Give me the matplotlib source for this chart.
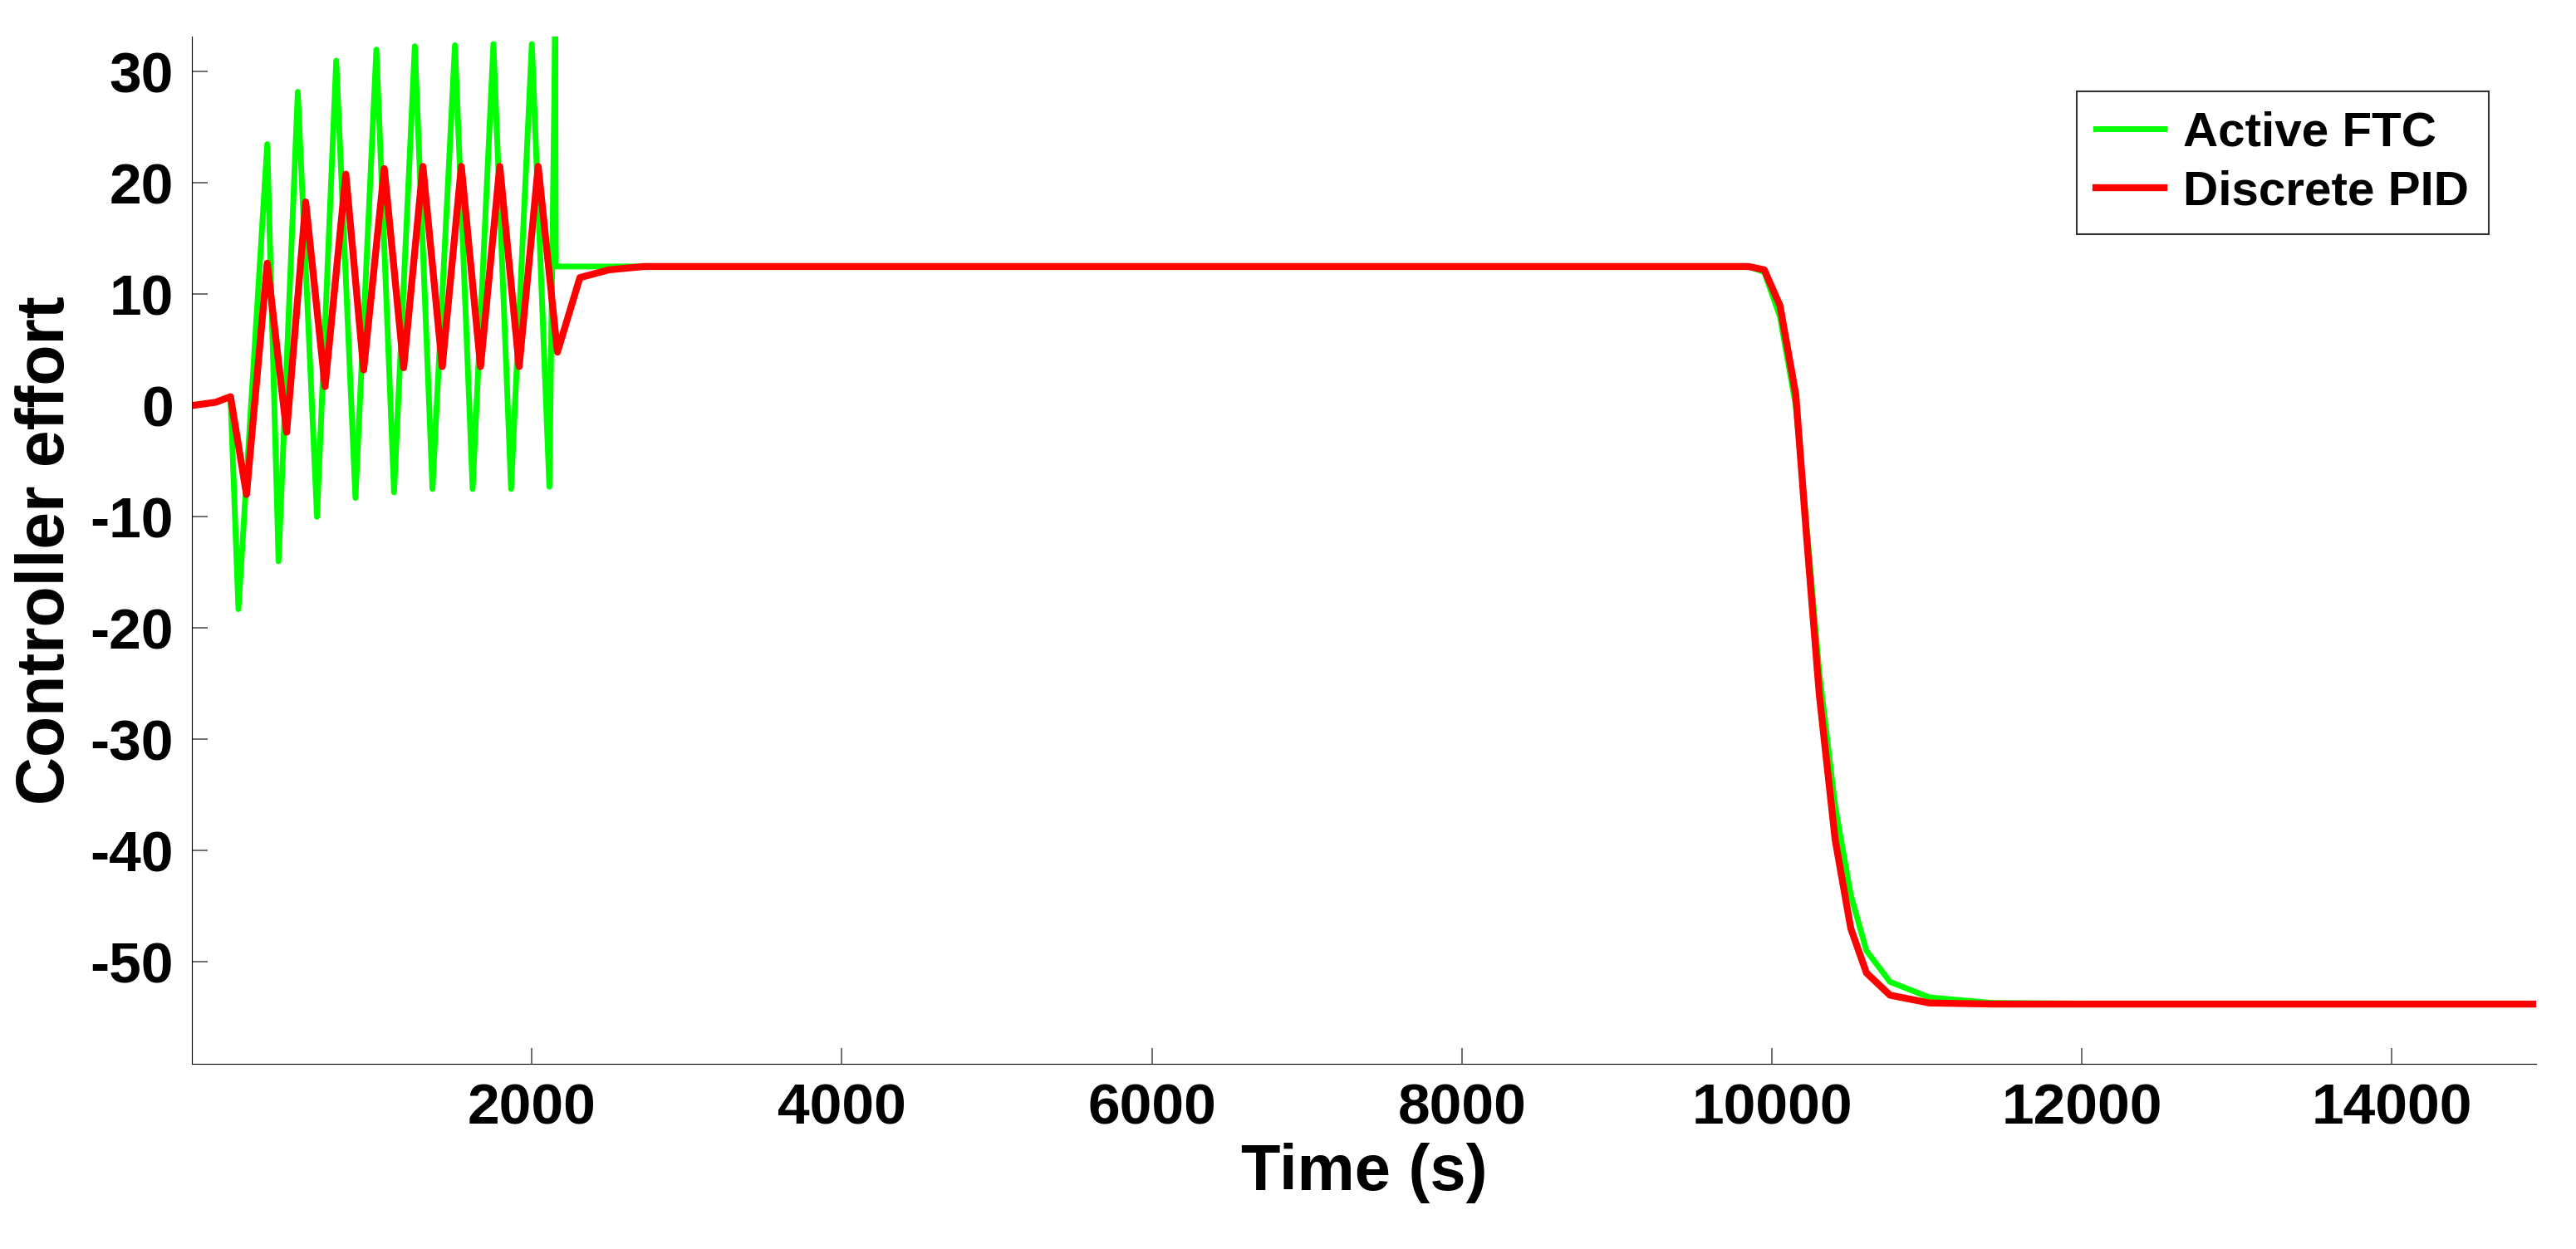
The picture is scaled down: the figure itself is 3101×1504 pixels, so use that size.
import matplotlib.pyplot as plt

plt.rcParams['font.family'] = ['Liberation Sans', 'DejaVu Sans']
plt.rcParams['font.weight'] = 'bold'
plt.rcParams['axes.unicode_minus'] = False

# Active FTC (green) - read peaks / troughs off the picture
ftc_t = [-193, -39, 56, 107, 293, 366, 490, 614, 738, 862, 997, 1111, 1245, 1359,
         1504, 1618, 1752, 1866, 2000, 2113, 2150, 2155, 2700, 9850, 9951, 10052,
         10154, 10225, 10306, 10408, 10509, 10610, 10762, 11016, 11421, 12436]
ftc_u = [0, 0.3, 0.8, -18.3, 23.5, -14.0, 28.2, -10.0, 31.0, -8.3, 32.0, -7.8, 32.3, -7.5,
         32.4, -7.5, 32.5, -7.5, 32.5, -7.3, 33.2, 12.5, 12.5, 12.5, 12.0, 8.0,
         0.0, -11.0, -24.0, -36.0, -44.0, -49.0, -51.8, -53.2, -53.7, -53.8]

# Discrete PID (red)
pid_t = [-193, -39, 56, 159, 293, 418, 541, 666, 800, 915, 1048, 1173, 1297, 1422,
         1545, 1669, 1793, 1918, 2041, 2165, 2310, 2497, 2724, 9850, 9951, 10052,
         10154, 10225, 10306, 10408, 10509, 10610, 10762, 11016, 11421, 14930]
pid_u = [0, 0.3, 0.8, -8.0, 12.8, -2.4, 18.3, 1.7, 20.8, 3.2, 21.3, 3.4, 21.5, 3.5,
         21.5, 3.5, 21.5, 3.5, 21.5, 4.8, 11.5, 12.2, 12.5, 12.5, 12.2, 9.0,
         1.0, -12.0, -26.0, -39.0, -47.0, -51.0, -53.0, -53.7, -53.8, -53.8]

xticks = [2000, 4000, 6000, 8000, 10000, 12000, 14000]
yticks = [30, 20, 10, 0, -10, -20, -30, -40, -50]

fig = plt.figure(figsize=(31.01, 15.04), dpi=100)
ax = fig.add_axes([0.0745, 0.148, 0.91, 0.823])

ax.plot(ftc_t, ftc_u, color='#00ff00', lw=5, label='Active FTC')
ax.plot(pid_t, pid_u, color='#ff0000', lw=6, label='Discrete PID')

ax.set_xlim(-193, 14930)
ax.set_ylim(-59.2, 33.2)
ax.set_xticks(xticks)
ax.set_yticks(yticks)
ax.tick_params(direction='in', length=14, width=1.2, color='#555555', labelsize=50, pad=16)
for lab in ax.get_xticklabels() + ax.get_yticklabels():
    lab.set_fontweight('bold')
ax.spines['top'].set_visible(False)
ax.spines['right'].set_visible(False)
ax.set_xlabel('Time (s)', fontsize=56, fontweight='bold', labelpad=6)
ax.set_ylabel('Controller effort', fontsize=58, fontweight='bold', labelpad=10)

leg = ax.legend(loc='upper right', bbox_to_anchor=(0.99, 0.97), fontsize=42,
                frameon=True, fancybox=False, edgecolor='black', handlelength=1.4,
                borderpad=0.4, labelspacing=0.3, handletextpad=0.4)
leg.get_frame().set_linewidth(1.5)
for txt in leg.get_texts():
    txt.set_fontweight('bold')

fig.savefig('out.png', dpi=100)
